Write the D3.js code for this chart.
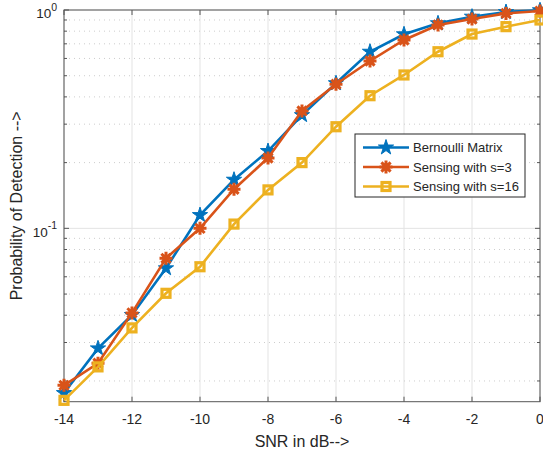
<!DOCTYPE html>
<html>
<head>
<meta charset="utf-8">
<script src="https://cdn.jsdelivr.net/npm/d3@7"></script>
<style>
  body { margin: 0; background: #fff; }
  text { font-family: "Liberation Sans", Arial, Helvetica, sans-serif; fill: #262626; }
</style>
</head>
<body>
<svg id="chart" width="543" height="455"></svg>
<script>
// SNR values (dB)
var snr = [-14, -13, -12, -11, -10, -9, -8, -7, -6, -5, -4, -3, -2, -1, 0];

// probability of detection per series
var bernoulli = [0.0176, 0.0282, 0.0401, 0.0656, 0.115, 0.167, 0.226, 0.330, 0.462, 0.644, 0.774, 0.869, 0.932, 0.979, 0.997];
var sensing3  = [0.0191, 0.0241, 0.0410, 0.0729, 0.100, 0.151, 0.210, 0.345, 0.457, 0.584, 0.729, 0.854, 0.909, 0.965, 0.989];
var sensing16 = [0.0163, 0.0232, 0.0350, 0.0504, 0.0667, 0.1046, 0.150, 0.200, 0.292, 0.405, 0.504, 0.644, 0.776, 0.839, 0.900];

var seriesNames = ["Bernoulli Matrix", "Sensing with s=3", "Sensing with s=16"];
var seriesColors = ["#0072BD", "#D95319", "#EDB120"];
var xTicks = [-14, -12, -10, -8, -6, -4, -2, 0];
var yMajor = [0.1, 1];
var yMinor = [0.02, 0.03, 0.04, 0.05, 0.06, 0.07, 0.08, 0.09, 0.2, 0.3, 0.4, 0.5, 0.6, 0.7, 0.8, 0.9];

var pL = 64, pR = 540, pT = 10, pB = 401.7;

var svg = d3.select("svg#chart");

var x = d3.scaleLinear().domain([-14, 0]).range([pL, pR]);
var y = d3.scaleLog().domain([0.01607, 1]).range([pB, pT]);

// grid
var grid = svg.append("g");
grid.selectAll("line.vg")
    .data(xTicks)
    .enter()
    .append("line")
    .attr("x1", d => x(d)).attr("x2", d => x(d))
    .attr("y1", pT).attr("y2", pB)
    .attr("stroke", "#e3e3e3")
    .attr("stroke-width", 1);
grid.selectAll("line.mg")
    .data(yMinor)
    .enter()
    .append("line")
    .attr("x1", pL).attr("x2", pR)
    .attr("y1", d => y(d)).attr("y2", d => y(d))
    .attr("stroke", "#cdcdcd")
    .attr("stroke-width", 1)
    .attr("stroke-dasharray", "1,4");
grid.selectAll("line.hg")
    .data(yMajor)
    .enter()
    .append("line")
    .attr("x1", pL).attr("x2", pR)
    .attr("y1", d => y(d)).attr("y2", d => y(d))
    .attr("stroke", "#e3e3e3")
    .attr("stroke-width", 1);

// axes box + ticks
var axisColor = "#555";
var ax = svg.append("g");
ax.append("rect")
    .attr("x", pL).attr("y", pT)
    .attr("width", pR - pL).attr("height", pB - pT)
    .attr("fill", "none")
    .attr("stroke", axisColor)
    .attr("stroke-width", 1);

xTicks.forEach(function(t) {
    ax.append("line").attr("x1", x(t)).attr("x2", x(t)).attr("y1", pB).attr("y2", pB - 5)
        .attr("stroke", axisColor);
    ax.append("line").attr("x1", x(t)).attr("x2", x(t)).attr("y1", pT).attr("y2", pT + 5)
        .attr("stroke", axisColor);
    ax.append("text")
        .attr("x", x(t)).attr("y", 423.5)
        .attr("text-anchor", "middle")
        .attr("font-size", "14px")
        .text(t === 0 ? "0" : "-" + Math.abs(t));
});

yMajor.concat(yMinor).forEach(function(t) {
    var len = yMajor.indexOf(t) >= 0 ? 5 : 3;
    ax.append("line").attr("x1", pL).attr("x2", pL + len).attr("y1", y(t)).attr("y2", y(t))
        .attr("stroke", axisColor);
    ax.append("line").attr("x1", pR).attr("x2", pR - len).attr("y1", y(t)).attr("y2", y(t))
        .attr("stroke", axisColor);
});

yMajor.forEach(function(t) {
    var p = Math.round(Math.log10(t));
    var lbl = ax.append("text")
        .attr("x", pL - 7).attr("y", y(t) + 8.3)
        .attr("text-anchor", "end")
        .attr("font-size", "13.5px");
    lbl.append("tspan").text("10");
    lbl.append("tspan").attr("dy", -7.5).attr("font-size", "10.5px").text(String(p));
});

// axis labels
svg.append("text")
    .attr("x", (pL + pR) / 2).attr("y", 446.5)
    .attr("text-anchor", "middle")
    .attr("font-size", "16px")
    .text("SNR in dB-->");
svg.append("text")
    .attr("transform", "translate(22," + ((pT + pB) / 2) + ") rotate(-90)")
    .attr("text-anchor", "middle")
    .attr("font-size", "16px")
    .text("Probability of Detection -->");

// markers
function starPath(r) {
    return d3.symbol(d3.symbolStar, r * r / 0.8908130915292852)();
}
function asteriskPath(r) {
    var s = "";
    for (var k = 0; k < 4; k++) {
        var a = k * Math.PI / 4;
        var dx = r * Math.cos(a), dy = r * Math.sin(a);
        s += "M" + (-dx) + "," + (-dy) + "L" + dx + "," + dy;
    }
    return s;
}
function drawMarker(g, kind, color) {
    if (kind === 0) {
        g.append("path").attr("d", starPath(8)).attr("fill", color).attr("stroke", color).attr("stroke-width", 1);
    } else if (kind === 1) {
        g.append("path").attr("d", asteriskPath(6.5)).attr("fill", "none").attr("stroke", color).attr("stroke-width", 3);
    } else {
        g.append("rect").attr("x", -4).attr("y", -4).attr("width", 8).attr("height", 8)
            .attr("fill", "none").attr("stroke", color).attr("stroke-width", 3.2);
    }
}

var allSeries = [bernoulli, sensing3, sensing16];
var line = d3.line().x((d, i) => x(snr[i])).y(d => y(d));

var plot = svg.append("g");
allSeries.forEach(function(vals, k) {
    plot.append("path")
        .datum(vals)
        .attr("d", line)
        .attr("fill", "none")
        .attr("stroke", seriesColors[k])
        .attr("stroke-width", 2.6);
    vals.forEach(function(v, i) {
        var g = plot.append("g").attr("transform", "translate(" + x(snr[i]) + "," + y(v) + ")");
        drawMarker(g, k, seriesColors[k]);
    });
});

// legend
var lg = svg.append("g");
lg.append("rect")
    .attr("x", 355).attr("y", 134)
    .attr("width", 170).attr("height", 63)
    .attr("fill", "#fff")
    .attr("stroke", "#262626")
    .attr("stroke-width", 1);
var legendY = [147.5, 167, 186.5];
seriesNames.forEach(function(name, k) {
    lg.append("line")
        .attr("x1", 363).attr("x2", 409)
        .attr("y1", legendY[k]).attr("y2", legendY[k])
        .attr("stroke", seriesColors[k])
        .attr("stroke-width", 2.6);
    var g = lg.append("g").attr("transform", "translate(386," + legendY[k] + ")");
    drawMarker(g, k, seriesColors[k]);
    lg.append("text")
        .attr("x", 413).attr("y", legendY[k] + 4.5)
        .attr("font-size", "13px")
        .text(name);
});
</script>
</body>
</html>
